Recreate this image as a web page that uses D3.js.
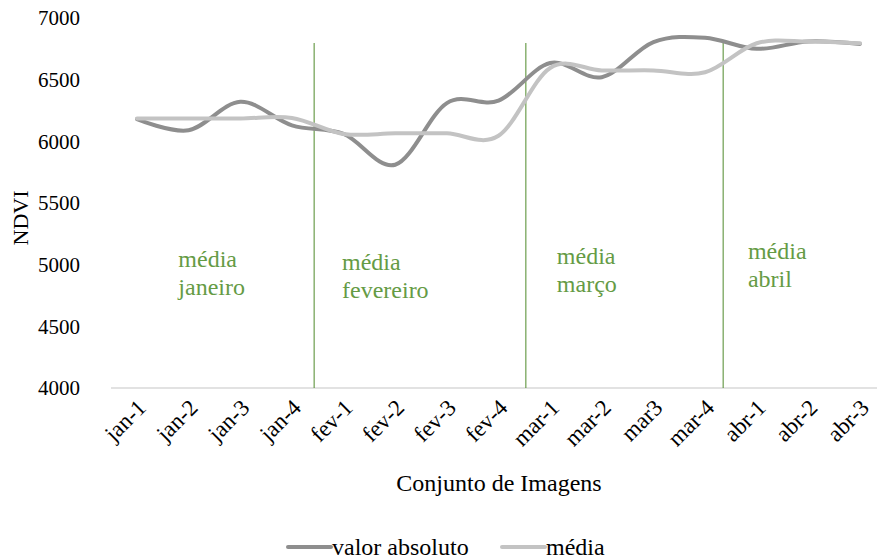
<!DOCTYPE html>
<html><head><meta charset="utf-8">
<script src="https://cdn.jsdelivr.net/npm/d3@7/dist/d3.min.js"></script>
<style>body{margin:0;background:#fff}svg{display:block}</style>
</head><body><svg id="c" width="877" height="560" font-family="Liberation Serif"></svg>
<script>
const categories = ["jan-1","jan-2","jan-3","jan-4","fev-1","fev-2","fev-3","fev-4","mar-1","mar-2","mar3","mar-4","abr-1","abr-2","abr-3"];
const valorAbsoluto = [6180,6090,6320,6130,6060,5810,6310,6330,6635,6520,6805,6840,6750,6810,6790];
const media = [6185,6185,6185,6190,6060,6065,6065,6045,6595,6575,6575,6560,6795,6810,6795];
const yTicks = [4000,4500,5000,5500,6000,6500,7000];
const dividers = [3.43,7.53,11.35];
const monthLabels = [
  {pos:0.8, lines:["média","janeiro"], v:4985},
  {pos:3.97, lines:["média","fevereiro"], v:4955},
  {pos:8.13, lines:["média","março"], v:5005},
  {pos:11.83, lines:["média","abril"], v:5045}
];
const seriesNames = ["valor absoluto","média"];
const colors = ["#8e8e8e","#c3c3c3"];
const FONT = "Liberation Serif";

const svg = d3.select("#c").attr("font-family",FONT);
const x = d3.scalePoint().domain(categories).range([137,860]);
const xi = d3.scaleLinear().domain([0,categories.length-1]).range([137,860]);
const y = d3.scaleLinear().domain([4000,7000]).range([388,18]);

const ya = svg.append("g").attr("transform","translate(80,0)")
  .call(d3.axisLeft(y).tickValues(yTicks).tickSize(0).tickPadding(0).tickFormat(d3.format("d")));
ya.attr("font-family",FONT);
ya.select(".domain").remove();
ya.selectAll("text").attr("font-size",21).attr("fill","#000").attr("dy","0.33em");

svg.append("line").attr("x1",111).attr("x2",886).attr("y1",y(4000)).attr("y2",y(4000))
  .attr("stroke","#d9d9d9").attr("stroke-width",1.3);

const xa = svg.append("g").attr("transform",`translate(0,${y(4000)})`)
  .call(d3.axisBottom(x).tickSize(0).tickPadding(0));
xa.attr("font-family",FONT);
xa.select(".domain").remove();
xa.selectAll("text").attr("font-size",23).attr("fill","#000")
  .attr("text-anchor","end").attr("dy",0).attr("y",0)
  .attr("transform","translate(10,21) rotate(-45)");

svg.selectAll("line.div").data(dividers).join("line").attr("class","div")
  .attr("x1",d=>xi(d)).attr("x2",d=>xi(d)).attr("y1",43).attr("y2",y(4000))
  .attr("stroke","#4f8a2a").attr("stroke-width",1);

monthLabels.forEach(m=>{
  m.lines.forEach((l,i)=>svg.append("text").attr("x",xi(m.pos)).attr("y",y(m.v)+i*28)
    .attr("font-size",24).attr("fill","#659b45").text(l));
});

const line = d3.line().x((d,i)=>x(categories[i])).y(d=>y(d)).curve(d3.curveCatmullRom.alpha(0));
[valorAbsoluto, media].forEach((s,k)=>{
  svg.append("path").datum(s).attr("d",line).attr("fill","none").attr("stroke",colors[k])
    .attr("stroke-width",4).attr("stroke-linecap","round").attr("stroke-linejoin","round");
});

svg.append("text").attr("transform","translate(28,218) rotate(-90)").attr("text-anchor","middle")
  .attr("font-size",22).text("NDVI");
svg.append("text").attr("x",499).attr("y",491).attr("text-anchor","middle")
  .attr("font-size",24).text("Conjunto de Imagens");

const leg = [{x:288},{x:502}];
seriesNames.forEach((n,k)=>{
  svg.append("line").attr("x1",leg[k].x).attr("x2",leg[k].x+43).attr("y1",547).attr("y2",547)
    .attr("stroke",colors[k]).attr("stroke-width",4).attr("stroke-linecap","round");
  svg.append("text").attr("x",leg[k].x+44).attr("y",555).attr("font-size",24).text(n);
});
</script></body></html>
